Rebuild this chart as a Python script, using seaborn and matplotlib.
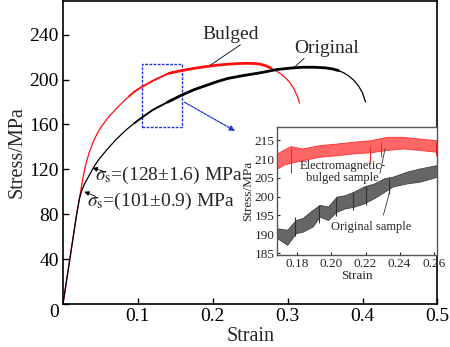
import numpy as np
import pandas as pd
import matplotlib
matplotlib.use("Agg")
import matplotlib.pyplot as plt
import seaborn as sns
from matplotlib.patches import Rectangle

# ---------------- data ----------------
red_strain = [0, 0.009, 0.018, 0.025, 0.028, 0.031, 0.035, 0.040, 0.045, 0.051, 0.060,
              0.071, 0.080, 0.088, 0.096, 0.104, 0.120, 0.141, 0.158, 0.175, 0.190,
              0.205, 0.220, 0.235, 0.245, 0.255, 0.263, 0.270, 0.277, 0.284, 0.291,
              0.298, 0.304, 0.309, 0.313, 0.316]
red_stress = [0, 39.5, 79, 106, 117, 126, 135, 144, 151, 158, 166,
              174, 180, 185, 189.5, 193, 199, 205.5, 208, 210, 211.5,
              212.8, 213.7, 214.3, 214.5, 214.3, 213.8, 212.5, 210.5, 208, 205,
              201, 196.5, 191, 185, 179]

black_strain = [0, 0.009, 0.018, 0.022, 0.025, 0.028, 0.032, 0.037, 0.042, 0.048, 0.058,
                0.070, 0.084, 0.095, 0.105, 0.120, 0.140, 0.158, 0.175, 0.190,
                0.205, 0.220, 0.240, 0.263, 0.286, 0.305, 0.320, 0.335, 0.350,
                0.360, 0.368, 0.375, 0.382, 0.389, 0.395, 0.400, 0.404]
black_stress = [0, 39.5, 79, 94, 101, 106, 111, 117, 123, 129, 137,
                146, 155, 161, 166, 173, 180, 186, 191, 194.5,
                198, 201, 203.5, 206, 209, 210.3, 211, 211, 210.5,
                209.5, 208, 206, 203, 199, 194, 188, 180]

x_ticks = [0.1, 0.2, 0.3, 0.4, 0.5]
y_ticks = [0, 40, 80, 120, 160, 200, 240]

ins_red_x = [0.168, 0.172, 0.176, 0.183, 0.193, 0.203, 0.213, 0.223, 0.2325, 0.242, 0.252, 0.262]
ins_red_hi = [211.5, 212.5, 213.4, 212.8, 213.7, 214.1, 214.6, 215.0, 215.9, 215.9, 215.4, 215.0]
ins_red_lo = [207.5, 208.5, 209.0, 209.7, 210.6, 211.0, 211.5, 211.8, 212.4, 212.8, 212.4, 211.9]
ins_red_dip_x = [0.176, 0.2225, 0.229, 0.2615]
ins_red_dip_lo = [206.2, 209.3, 210.5, 210.8]
ins_red_dip_hi = [212.8, 213.5, 214.5, 214.5]

ins_blk_x = [0.168, 0.174, 0.179, 0.183, 0.189, 0.193, 0.198, 0.203, 0.208, 0.213,
             0.219, 0.225, 0.231, 0.236, 0.244, 0.252, 0.262]
ins_blk_hi = [191.6, 191.2, 193.8, 194.3, 196.5, 197.8, 197.4, 200.0, 200.4, 201.3,
              202.7, 203.5, 204.9, 205.3, 206.6, 207.5, 208.4]
ins_blk_lo = [189.0, 187.2, 190.3, 190.7, 192.1, 194.7, 193.8, 196.0, 196.9, 197.3,
              198.2, 199.6, 201.3, 202.7, 203.5, 204.0, 205.3]
ins_blk_dip_x = [0.1785, 0.1925, 0.2025, 0.2125, 0.2205, 0.2335]
ins_blk_dip_lo = [189.5, 193.0, 194.8, 196.5, 197.8, 200.8]
ins_blk_dip_hi = [194.5, 197.8, 199.8, 201.2, 202.8, 205.0]
ins_x_ticks = [0.18, 0.20, 0.22, 0.24, 0.26]
ins_y_ticks = [185, 190, 195, 200, 205, 210, 215]

# ---------------- style ----------------
sns.set_style("ticks")
plt.rcParams['font.family'] = ['Liberation Serif', 'DejaVu Serif']
plt.rcParams['mathtext.fontset'] = 'stix'
plt.rcParams['xtick.direction'] = 'in'
plt.rcParams['ytick.direction'] = 'in'

fig = plt.figure(figsize=(4.5, 3.47), dpi=100)
ax = fig.add_axes([0.14, 0.124, 0.832, 0.873])

red_df = pd.DataFrame({"strain": red_strain, "stress": red_stress})
blk_df = pd.DataFrame({"strain": black_strain, "stress": black_stress})

sns.lineplot(data=red_df, x="strain", y="stress", ax=ax, color="#ff1010", lw=0.9,
             sort=False, estimator=None)
sns.lineplot(data=blk_df, x="strain", y="stress", ax=ax, color="black", lw=0.9,
             sort=False, estimator=None)
rs1 = red_df[(red_df.strain >= 0.088) & (red_df.strain <= 0.141)]
rs2 = red_df[(red_df.strain >= 0.141) & (red_df.strain <= 0.277)]
bs1 = blk_df[(blk_df.strain >= 0.095) & (blk_df.strain <= 0.140)]
bs2 = blk_df[(blk_df.strain >= 0.140) & (blk_df.strain <= 0.368)]
for d, c, w in [(rs1, "#ff1010", 1.3), (rs2, "#ff1010", 2.0),
                (bs1, "black", 1.3), (bs2, "black", 2.0)]:
    sns.lineplot(data=d, x="strain", y="stress", ax=ax, color=c, lw=w,
                 sort=False, estimator=None)

ax.set_xlim(0, 0.5)
ax.set_ylim(0, 270)
ax.set_xticks(x_ticks)
ax.set_xticklabels([f"{v:g}" for v in x_ticks])
ax.set_yticks(y_ticks)
ax.set_yticklabels([str(v) for v in y_ticks])
ax.tick_params(labelsize=14, length=4, width=1, colors='black', pad=3)
for s in ax.spines.values():
    s.set_linewidth(1.2)
    s.set_color('black')
ax.set_xlabel("Strain", fontsize=14.5, labelpad=1)
ax.set_ylabel("Stress/MPa", fontsize=14.5, labelpad=2)
for lab in ax.get_yticklabels():
    if lab.get_text() == "0":
        lab.set_va("top")

# blue dashed box and arrow
ax.add_patch(Rectangle((0.105, 158), 0.054, 56, fill=False, ls=(0, (2, 1)),
                       lw=1.0, ec="#2030e0"))
ax.annotate("", xy=(0.233, 153), xytext=(0.159, 181),
            arrowprops=dict(arrowstyle="-|>", color="#2030e0", lw=0.9,
                            ls=(0, (2, 1)), mutation_scale=8))

# labels
ax.text(0.224, 240, "Bulged", fontsize=14, ha="center", va="center")
ax.plot([0.197, 0.237], [213, 231], color="black", lw=0.6)
ax.text(0.352, 227.5, "Original", fontsize=14, ha="center", va="center")
ax.plot([0.309, 0.322], [211, 219], color="black", lw=0.6)

ax.text(0.043, 114.5, r"$\sigma_{\rm s}$=(128±1.6) MPa", fontsize=14, ha="left", va="center")
ax.annotate("", xy=(0.036, 122), xytext=(0.060, 117),
            arrowprops=dict(arrowstyle="-|>", color="black", lw=0.6, mutation_scale=7))
ax.text(0.032, 91.5, r"$\sigma_{\rm s}$=(101±0.9) MPa", fontsize=14, ha="left", va="center")
ax.annotate("", xy=(0.025, 101), xytext=(0.047, 95),
            arrowprops=dict(arrowstyle="-|>", color="black", lw=0.6, mutation_scale=7))

# ---------------- inset ----------------
ins = fig.add_axes([0.6156, 0.2651, 0.3556, 0.3689])
ins.fill_between(ins_red_x, ins_red_lo, ins_red_hi, color="#ff6666", lw=0.6,
                 edgecolor="#ff3030")
ins.vlines(ins_red_dip_x, ins_red_dip_lo, ins_red_dip_hi, color="#ff2020", lw=0.8)
ins.fill_between(ins_blk_x, ins_blk_lo, ins_blk_hi, color="#666666", lw=0.6,
                 edgecolor="#404040")
ins.vlines(ins_blk_dip_x, ins_blk_dip_lo, ins_blk_dip_hi, color="#303030", lw=0.8)
ins.set_xlim(0.168, 0.262)
ins.set_ylim(184.5, 218.5)
ins.set_xticks(ins_x_ticks)
ins.set_xticklabels([f"{v:.2f}" for v in ins_x_ticks])
ins.set_yticks(ins_y_ticks)
ins.set_yticklabels([str(v) for v in ins_y_ticks])
ins.tick_params(labelsize=9.5, length=2.5, width=0.8, pad=2)
for s in ins.spines.values():
    s.set_linewidth(1.0)
    s.set_color('#555555')
ins.set_xlabel("Strain", fontsize=9.5, labelpad=0)
ins.set_ylabel("Stress/MPa", fontsize=9.5, labelpad=0)
ins.text(0.2065, 206.5, "Electromagnetic-\nbulged sample", fontsize=9,
         ha="center", va="center", linespacing=0.95)
ins.plot([0.2285, 0.2315], [206.2, 212.8], color="#333333", lw=0.6)
ins.text(0.2232, 192.0, "Original sample", fontsize=9, ha="center", va="center")
ins.plot([0.2305, 0.2344], [195.1, 201.8], color="#333333", lw=0.6)

fig.savefig("out.png", dpi=100)
